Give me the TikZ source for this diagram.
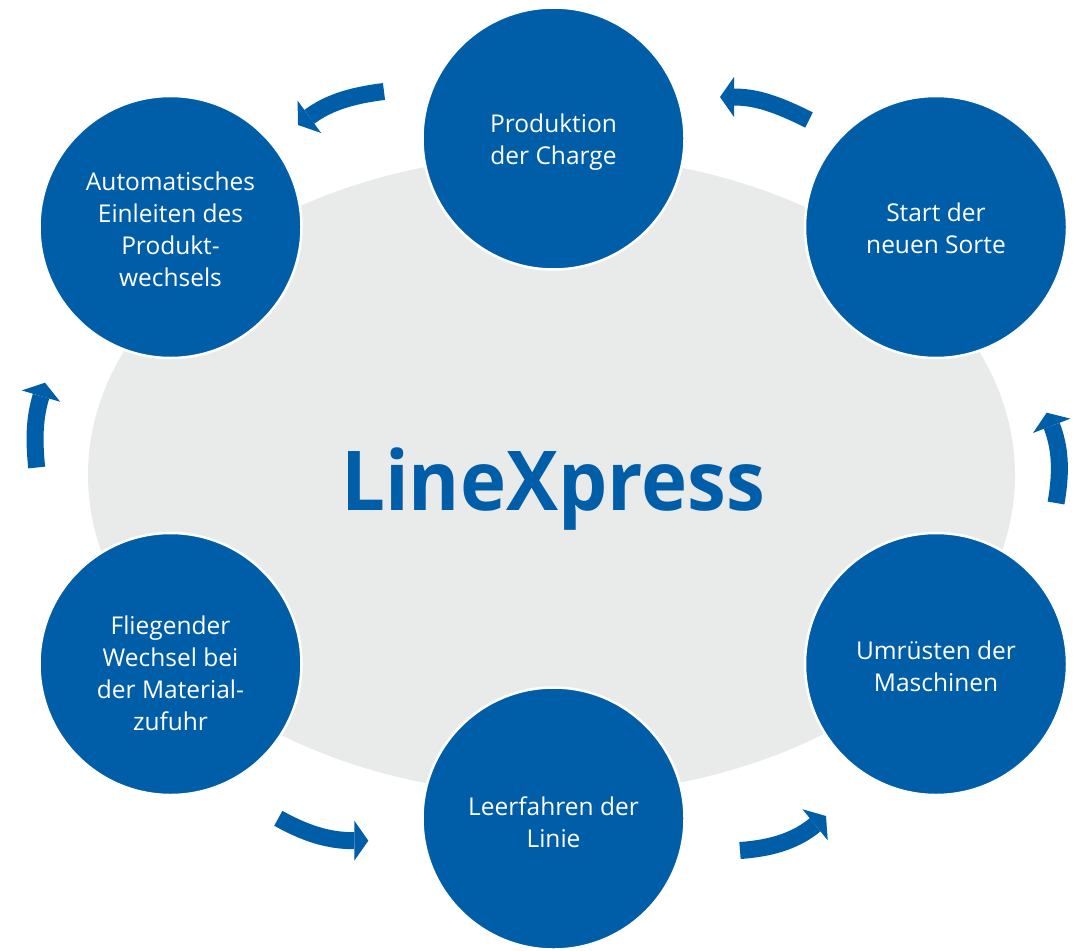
\documentclass[tikz,border=0pt]{standalone}
\usepackage{fontspec}
\usepackage{graphicx}
\setmainfont{Open Sans}
\usetikzlibrary{arrows.meta}
\definecolor{mblue}{RGB}{0,94,168}
\definecolor{mgray}{RGB}{233,234,234}
\begin{document}
\begin{tikzpicture}[x=1pt,y=1pt,
  stepcircle/.style={circle, fill=mblue, draw=white, line width=2.5pt,
    minimum size=262pt, inner sep=0pt},
  steptext/.style={text=white, align=center, inner sep=0pt,
    font=\fontsize{24.5}{32}\selectfont},
  cyclearrow/.style={draw=mblue, line width=17pt,
    -{Triangle[length=14pt,width=40pt,line width=0pt]}},
  titletext/.style={text=mblue, inner sep=0pt, anchor=base,
    font=\fontsize{82.6}{90}\selectfont\bfseries}
  ]
\useasboundingbox (0,0) rectangle (1078,-950);
\fill[white] (0,0) rectangle (1078,-950);
\fill[mgray] (551.5,-475) ellipse [x radius=463.5, y radius=320];
\node[titletext] (title) at (553,-510) {\scalebox{0.944}[1]{LineXpress}};

\node[stepcircle] (prod) at (553.5,-138.5) {};
\node[stepcircle] (start) at (936,-227) {};
\node[stepcircle] (umr) at (936,-664) {};
\node[stepcircle] (leer) at (553.5,-818.5) {};
\node[stepcircle] (flieg) at (170.5,-664) {};
\node[stepcircle] (auto) at (170.5,-227) {};

\node[steptext] (prodt)  at ([yshift=-4pt]prod.center)  {Produktion\\der Charge};
\node[steptext] (startt) at ([yshift=-1pt]start.center) {Start der\\neuen Sorte};
\node[steptext] (umrt)   at ([yshift=-2pt]umr.center)   {Umrüsten der\\Maschinen};
\node[steptext] (leert)  at ([yshift=-4pt]leer.center)  {Leerfahren der\\Linie};
\node[steptext] (fliegt) at ([yshift=-9pt]flieg.center) {Fliegender\\Wechsel bei\\der Material-\\zufuhr};
\node[steptext] (autot)  at ([yshift=-2pt]auto.center)  {Automatisches\\Einleiten des\\Produkt-\\wechsels};

\coordinate (a1s) at (384,-91.5);   \coordinate (a1e) at (298,-125);
\coordinate (a2s) at (809,-120);    \coordinate (a2e) at (720,-97);
\coordinate (a3s) at (1056,-503);   \coordinate (a3e) at (1046.7,-412.7);
\coordinate (a4s) at (740,-850.5);  \coordinate (a4e) at (826,-816);
\coordinate (a5s) at (278.3,-818.3);\coordinate (a5e) at (368.3,-840.7);
\coordinate (a6s) at (36.7,-467.5); \coordinate (a6e) at (45,-382.7);

\draw[cyclearrow] (a1s) to[out=187,in=36] (a1e);
\draw[cyclearrow] (a2s) to[out=153.4,in=0] (a2e);
\draw[cyclearrow] (a3s) to[out=80,in=291] (a3e);
\draw[cyclearrow] (a4s) to[out=4,in=219] (a4e);
\draw[cyclearrow] (a5s) to[out=331,in=180] (a5e);
\draw[cyclearrow] (a6s) to[out=96,in=253.5] (a6e);
\end{tikzpicture}
\end{document}
